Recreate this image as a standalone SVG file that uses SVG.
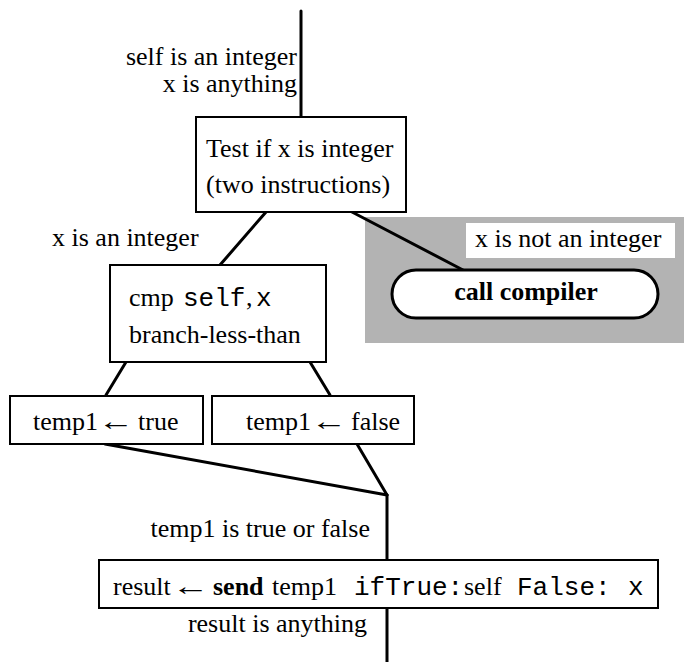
<svg xmlns="http://www.w3.org/2000/svg" width="684" height="662" viewBox="0 0 684 662">
<style>
text{font-family:"Liberation Serif","Times New Roman",serif;font-size:26px;fill:#000}
.mono{font-family:"Liberation Mono","Courier New",monospace}
.b{font-weight:bold}
.box{fill:#fff;stroke:#000;stroke-width:2}
.conn line{stroke:#000;stroke-width:3;stroke-linecap:round}
</style>
<rect x="0" y="0" width="684" height="662" fill="#fff"/>
<g id="failure-region">
<rect x="365" y="217" width="319" height="126" fill="#b3b3b3"/>
<rect x="466" y="223" width="209" height="35" fill="#fff"/>
<text x="475" y="247">x is not an integer</text>
</g>
<g class="conn" id="connectors">
<line x1="301" y1="11" x2="301" y2="117"/>
<line x1="266" y1="212" x2="220" y2="265"/>
<line x1="352" y1="212" x2="463" y2="270"/>
<line x1="126" y1="362" x2="106" y2="395"/>
<line x1="310" y1="362" x2="330" y2="395"/>
<line x1="105" y1="444" x2="387" y2="495"/>
<line x1="357" y1="444" x2="387" y2="495"/>
<line x1="387" y1="495" x2="387" y2="560"/>
<line x1="387" y1="608" x2="387" y2="662"/>
</g>
<g id="labels">
<text x="297" y="65" text-anchor="end">self is an integer</text>
<text x="297" y="92" text-anchor="end">x is anything</text>
<text x="52" y="246">x is an integer</text>
<text x="370" y="537" text-anchor="end">temp1 is true or false</text>
<text x="367" y="632" text-anchor="end">result is anything</text>
</g>
<g id="test-box">
<rect class="box" x="196" y="117" width="210" height="95"/>
<text x="206" y="157">Test if x is integer</text>
<text x="206" y="193">(two instructions)</text>
</g>
<g id="call-compiler">
<rect x="392" y="270" width="266" height="48" rx="24" ry="24" fill="#fff" stroke="#000" stroke-width="3"/>
<text x="526" y="300" text-anchor="middle" class="b">call compiler</text>
</g>
<g id="cmp-box">
<rect class="box" x="110" y="265" width="216" height="97"/>
<text x="129" y="306">cmp</text>
<text x="183" y="306" class="mono">self</text>
<text x="246" y="306">,</text>
<text x="256" y="306" class="mono">x</text>
<text x="129" y="343">branch-less-than</text>
</g>
<g id="true-box">
<rect class="box" x="10" y="396" width="193" height="48"/>
<text x="33" y="430">temp1</text>
<text transform="translate(98,430) scale(1.4,1)">←</text>
<text x="138" y="430">true</text>
</g>
<g id="false-box">
<rect class="box" x="212" y="396" width="202" height="48"/>
<text x="246" y="430">temp1</text>
<text transform="translate(311,430) scale(1.4,1)">←</text>
<text x="351" y="430">false</text>
</g>
<g id="send-box">
<rect class="box" x="99" y="560" width="559" height="48"/>
<text x="113" y="595">result</text>
<text transform="translate(172,595) scale(1.45,1)">←</text>
<text x="213" y="595" class="b">send</text>
<text x="272" y="595">temp1</text>
<text x="354" y="595" class="mono">ifTrue:</text>
<text x="464" y="595">self</text>
<text x="517" y="595" class="mono">False:</text>
<text x="628" y="595" class="mono">x</text>
</g>
</svg>
